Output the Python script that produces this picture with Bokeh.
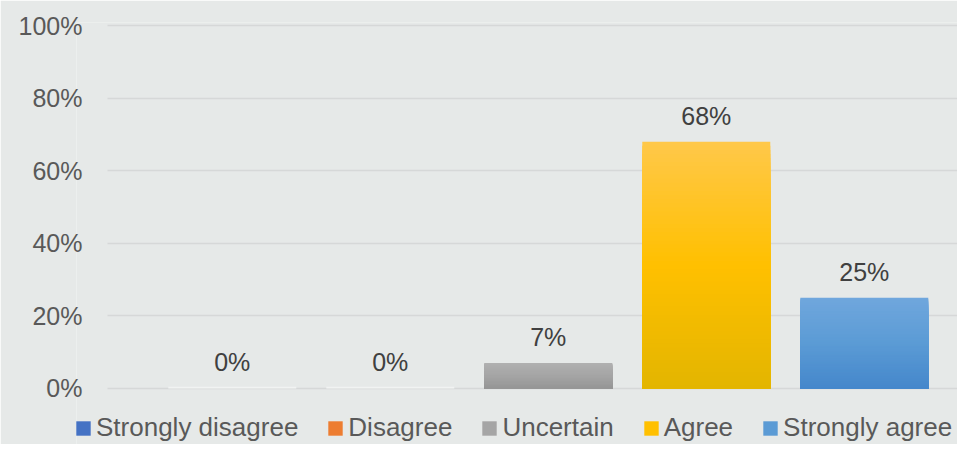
from bokeh.plotting import figure
from bokeh.models import Range1d, Legend, LegendItem, FixedTicker, ColumnDataSource
from bokeh.embed import file_html
from bokeh.resources import INLINE
from bokeh.core.properties import value

# ---- data ----
categories = ["Strongly disagree", "Disagree", "Uncertain", "Agree", "Strongly agree"]
percentages = [0, 0, 7, 68, 25]
y_ticks = [0, 20, 40, 60, 80, 100]
y_tick_labels = ["0%", "20%", "40%", "60%", "80%", "100%"]

# ---- style ----
FONT = "Liberation Sans"
BG = "#E6E9E8"
# gradient stops (top, middle, bottom) per category
stops = [
    ("#6A8FD6", "#4472C4", "#3A64B0"),
    ("#F39A5C", "#ED7D31", "#D86C22"),
    ("#B0B0B0", "#A5A5A5", "#959595"),
    ("#FFC84A", "#FFC000", "#E3B500"),
    ("#70A7DD", "#5B9BD5", "#4587CB"),
]
legend_colors = ["#4472C4", "#ED7D31", "#A5A5A5", "#FFC000", "#5B9BD5"]
BAR_W = 0.81
N_SLICES = 60
X_START, X_END = -0.986, 4.59
GRID_X0 = -0.79


def hex2rgb(h):
    h = h.lstrip("#")
    return tuple(int(h[i:i + 2], 16) for i in (0, 2, 4))


def mix(c1, c2, t):
    a, b = hex2rgb(c1), hex2rgb(c2)
    return "#%02x%02x%02x" % tuple(round(a[k] + (b[k] - a[k]) * t) for k in range(3))


def grad(top, mid, bot, f):
    # f: 0 at bottom, 1 at top
    if f < 0.5:
        return mix(bot, mid, f / 0.5)
    return mix(mid, top, (f - 0.5) / 0.5)


p = figure(width=957, height=444, output_backend="svg", toolbar_location=None,
           x_range=Range1d(X_START, X_END), y_range=Range1d(-15.43, 100.83),
           min_border_left=76, min_border_right=0, min_border_top=22, min_border_bottom=0)
p.background_fill_color = BG
p.border_fill_color = BG
p.outline_line_color = None

# faint base strip under every bar
x_idx = list(range(len(categories)))
p.vbar(x=x_idx, width=BAR_W, bottom=0, top=0.45, fill_color="#F1F3F2",
       line_color=None)

# gradient bars: nested bars from 0 up to a fraction of each value (tallest first)
xs, tops, cols = [], [], []
for i, v in enumerate(percentages):
    if v <= 0:
        continue
    t, m, b = stops[i]
    for k in range(N_SLICES - 1, -1, -1):
        xs.append(i)
        tops.append(v * (k + 1) / N_SLICES)
        cols.append(grad(t, m, b, (k + 0.5) / N_SLICES))
src = ColumnDataSource(dict(x=xs, top=tops, color=cols))
p.vbar(x="x", width=BAR_W, bottom=0, top="top", fill_color="color",
       line_color=None, source=src)

# value labels
lab = ColumnDataSource(dict(x=x_idx, y=percentages,
                            t=["%d%%" % v for v in percentages]))
p.text(x="x", y="y", text="t", source=lab, text_font=value(FONT),
       text_font_size="25px", text_color="#404040", text_align="center",
       text_baseline="bottom", y_offset=-12)

# legend renderers (zero-height bars, only used for legend swatches)
items = []
for i, c in enumerate(categories):
    r = p.vbar(x=[i], width=BAR_W, bottom=[0], top=[0], fill_color=legend_colors[i],
               line_color=None)
    items.append(LegendItem(label=c, renderers=[r]))

legend = Legend(items=items, orientation="horizontal", location=(-2, 1),
                label_text_font=FONT, label_text_font_size="26px",
                label_text_color="#595959", glyph_width=18, glyph_height=18,
                label_standoff=4, spacing=28, padding=0, margin=0,
                border_line_color=None, background_fill_alpha=0)
p.add_layout(legend, "center")

# axes
p.xaxis.visible = False
p.yaxis.ticker = FixedTicker(ticks=y_ticks)
p.yaxis.major_label_overrides = {t: l for t, l in zip(y_ticks, y_tick_labels)}
p.yaxis.axis_line_color = None
p.yaxis.major_tick_line_color = None
p.yaxis.minor_tick_line_color = None
p.yaxis.major_label_text_font = FONT
p.yaxis.major_label_text_font_size = "25px"
p.yaxis.major_label_text_color = "#595959"
p.yaxis.major_label_standoff = -12

p.xgrid.visible = False
p.ygrid.ticker = FixedTicker(ticks=y_ticks)
p.ygrid.cross_bounds = (GRID_X0, X_END)
p.ygrid.grid_line_color = "#D6D8D8"
p.ygrid.grid_line_width = 1.5

open("out.html", "w").write(file_html(p, INLINE))
